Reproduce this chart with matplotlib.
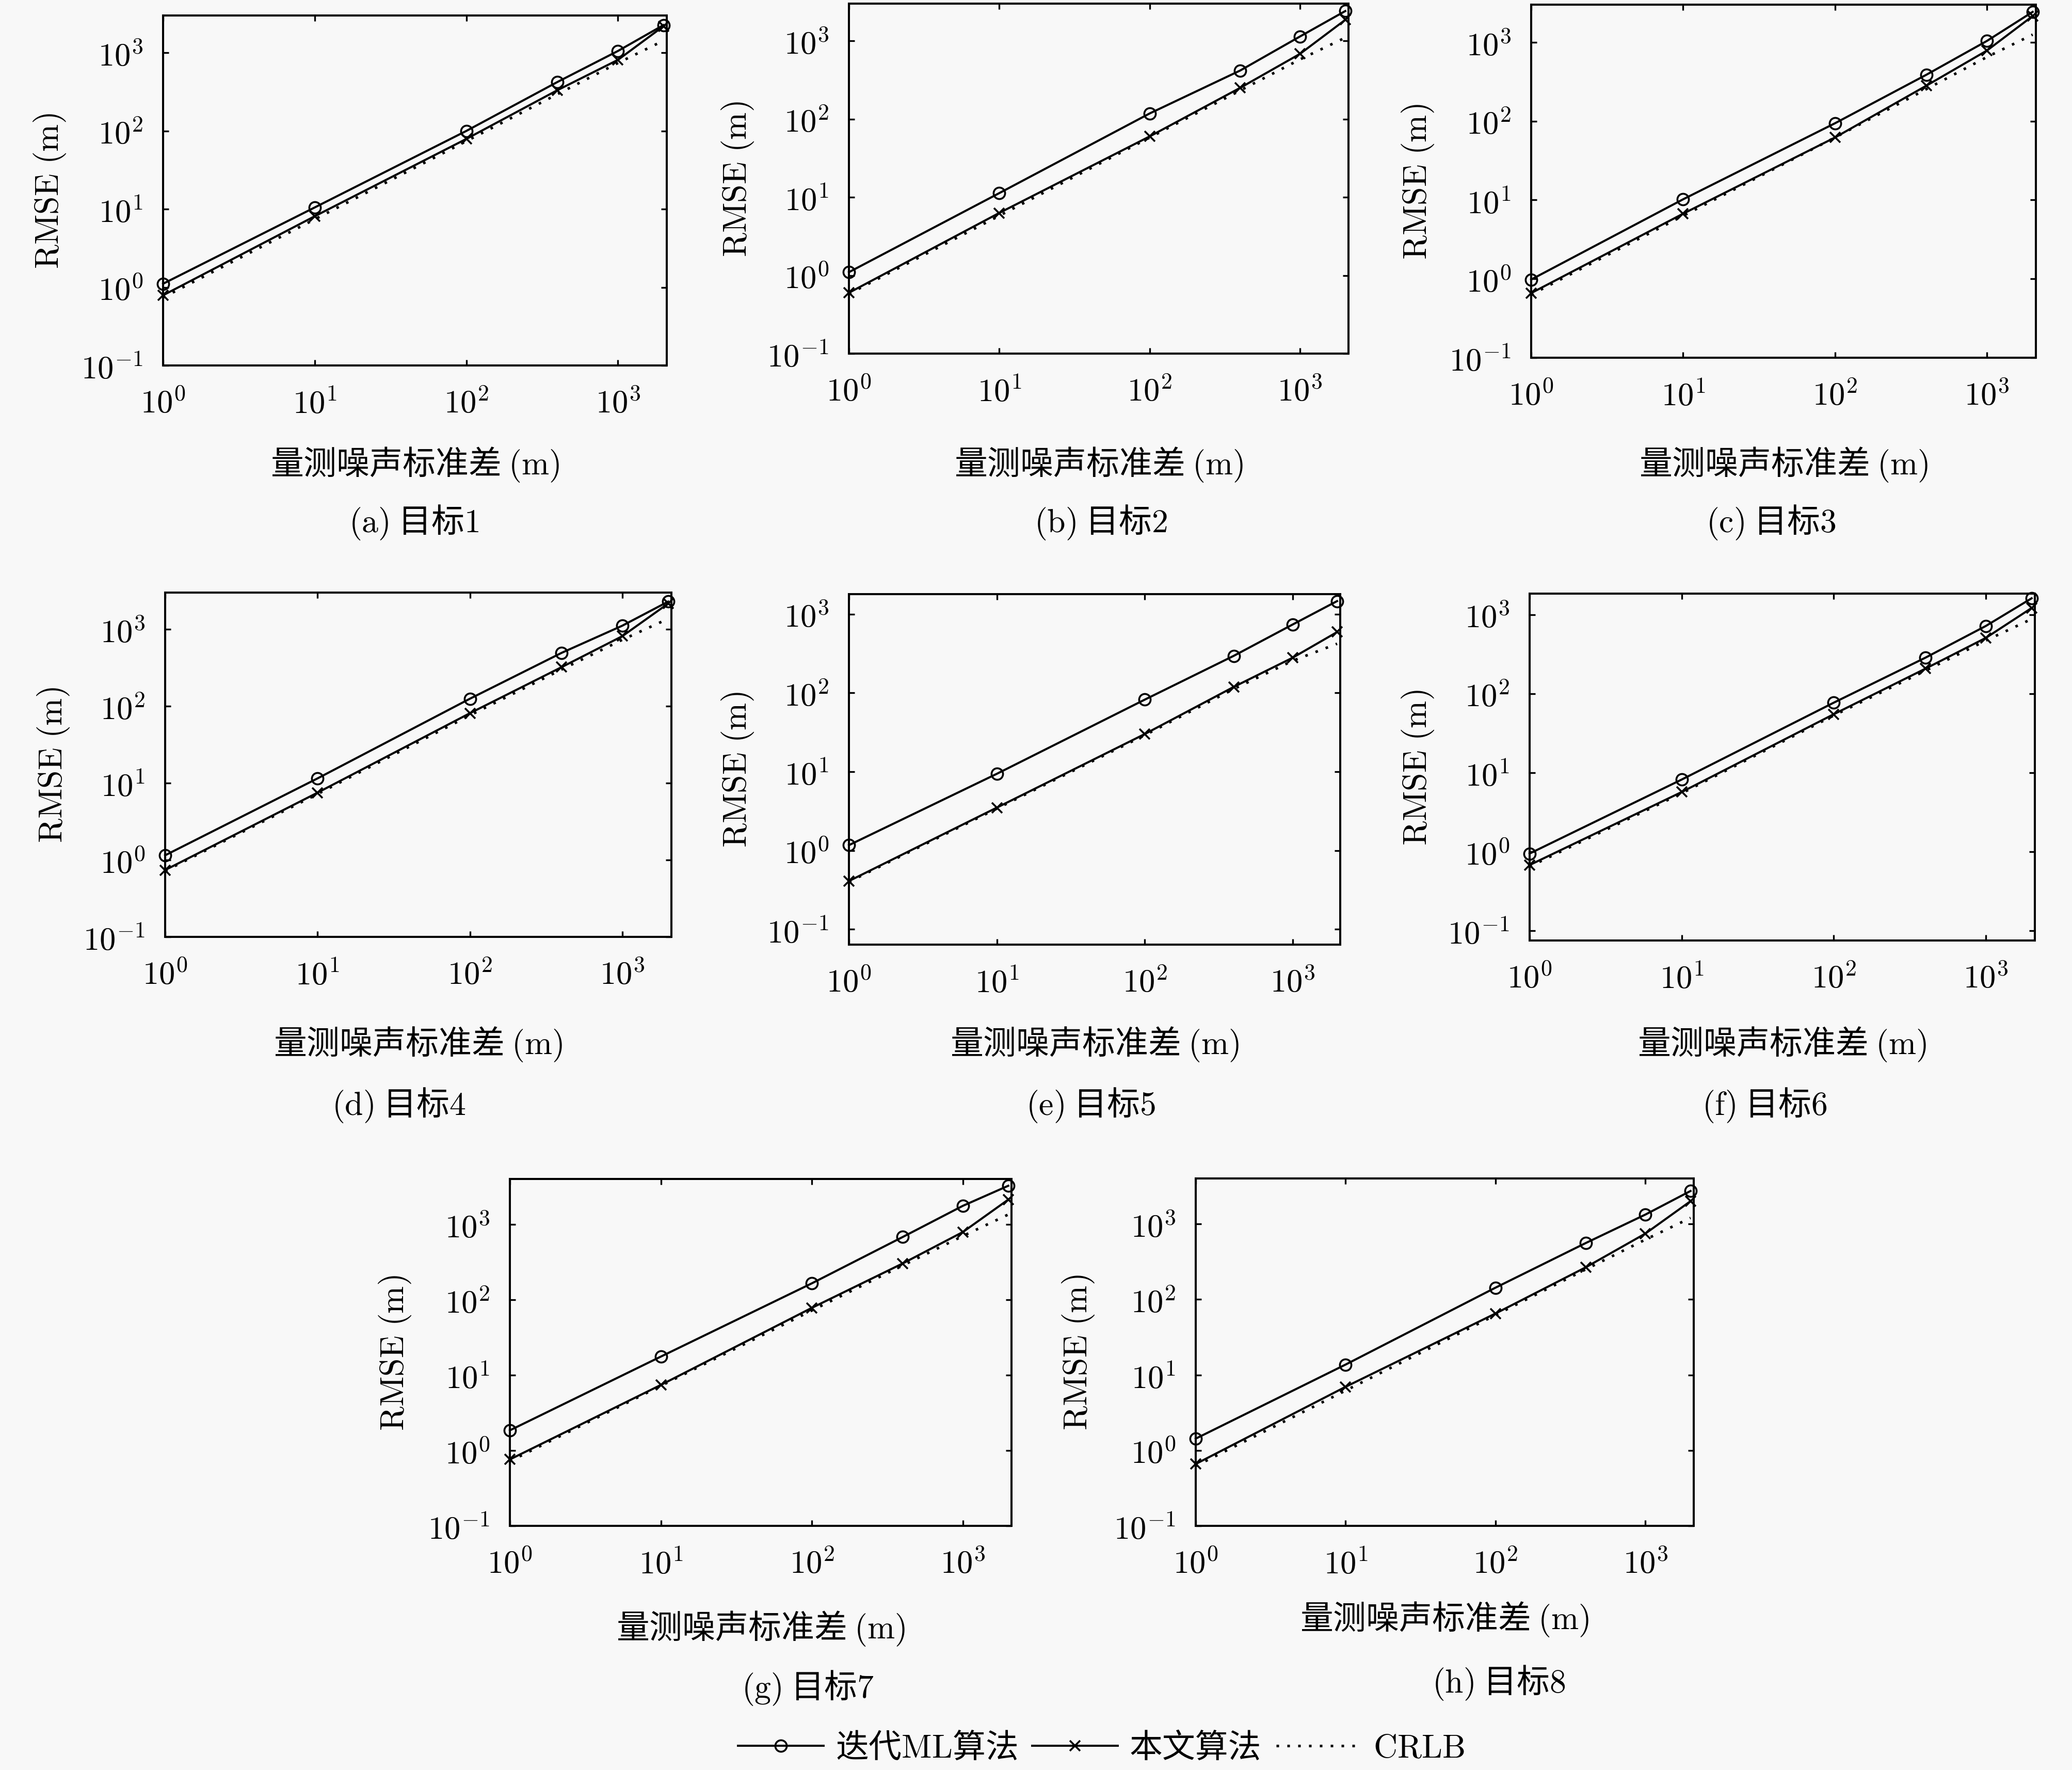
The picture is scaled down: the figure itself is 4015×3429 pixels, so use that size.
import numpy as np
import matplotlib
matplotlib.use('Agg')
import matplotlib.pyplot as plt
from matplotlib.ticker import FixedLocator, FuncFormatter, NullLocator

plt.rcParams['font.family'] = ['Noto Sans CJK SC', 'DejaVu Sans']
plt.rcParams['mathtext.fontset'] = 'cm'

# ---------------- data ----------------
sigma = [1, 10, 100, 400, 1000, 2000]

ml_a = [1.11, 10.5, 100, 424, 1054, 2264]
pr_a = [0.79, 8.1, 79, 333, 811, 2190]
cr_a = [0.74, 7.4, 74, 296, 740, 1430]

ml_b = [1.1, 11.3, 118, 418, 1140, 2410]
pr_b = [0.60, 6.3, 60, 251, 683, 1860]
cr_b = [0.58, 5.8, 58, 232, 580, 1100]

ml_c = [0.98, 10.2, 94, 388, 1040, 2430]
pr_c = [0.66, 6.7, 62, 282, 785, 2150]
cr_c = [0.63, 6.3, 62, 255, 650, 1250]

ml_d = [1.15, 11.5, 125, 494, 1113, 2290]
pr_d = [0.74, 7.5, 81, 322, 813, 2160]
cr_d = [0.72, 7.2, 76, 300, 730, 1370]

ml_e = [1.17, 9.4, 82, 295, 736, 1460]
pr_e = [0.41, 3.5, 30, 119, 279, 591]
cr_e = [0.40, 3.4, 29, 112, 255, 420]

ml_f = [0.95, 8.2, 77, 285, 719, 1610]
pr_f = [0.68, 5.7, 55, 207, 508, 1213]
cr_f = [0.65, 5.5, 53, 195, 470, 880]

ml_g = [1.85, 17.6, 165, 680, 1760, 3250]
pr_g = [0.76, 7.4, 78, 303, 790, 2130]
cr_g = [0.72, 7.2, 72, 285, 700, 1350]

ml_h = [1.43, 13.7, 143, 558, 1330, 2730]
pr_h = [0.66, 6.95, 65, 266, 745, 2000]
cr_h = [0.62, 6.2, 62, 250, 620, 1200]

panel_letters = ['a', 'b', 'c', 'd', 'e', 'f', 'g', 'h']
target_numbers = ['1', '2', '3', '4', '5', '6', '7', '8']
y_bottom = [0.1, 0.1, 0.1, 0.1, 0.064, 0.0755, 0.1, 0.1]
y_top = [3000, 3000, 3000, 3000, 1790, 1845, 4000, 4000]
y_ticks = [0.1, 1, 10, 100, 1000]
x_ticks = [1, 10, 100, 1000]
x_max = 2100

xlabel_text = '量测噪声标准差 (m)'
ylabel_text = 'RMSE (m)'
legend_labels = ['迭代ML算法', '本文算法', 'CRLB']

series = [
    (ml_a, pr_a, cr_a), (ml_b, pr_b, cr_b), (ml_c, pr_c, cr_c),
    (ml_d, pr_d, cr_d), (ml_e, pr_e, cr_e), (ml_f, pr_f, cr_f),
    (ml_g, pr_g, cr_g), (ml_h, pr_h, cr_h),
]

# ---------------- layout (pixels) ----------------
W, H = 4016, 3430
axes_px = [(316, 31, 1292, 709), (1645, 8, 2613, 686), (2967, 10, 3945, 694),
           (320, 1149, 1301, 1816), (1645, 1152, 2597, 1831), (2964, 1151, 3943, 1823),
           (988, 2285, 1960, 2957), (2317, 2284, 3282, 2957)]
ylabel_x = [97, 1430, 2748, 103, 1430, 2748, 766, 2090]
xlabel_y = [900, 900, 900, 2023, 2023, 2023, 3155, 3137]
caption_xy = [(802, 1012), (2133, 1012), (3432, 1012),
              (773, 2141), (2113, 2141), (3419, 2141),
              (1565, 3270), (2904, 3260)]

FS = 46
TFS = 45
bg = '#f8f8f8'


def mt(s):
    # render latin parts in Computer Modern, keep CJK as text
    out = ''
    buf = ''
    for ch in s:
        if ord(ch) < 128:
            buf += ch
        else:
            if buf:
                out += buf if buf.strip() == '' else (
                    (' ' if buf.startswith(' ') else '') + r'$\mathrm{' + buf.strip().replace(' ', r'\ ') + '}$' + (' ' if buf.endswith(' ') else ''))
                buf = ''
            out += ch
    if buf:
        out += (' ' if buf.startswith(' ') else '') + r'$\mathrm{' + buf.strip().replace(' ', r'\ ') + '}$'
    return out


fig = plt.figure(figsize=(W / 100, H / 100), dpi=100, facecolor=bg)

dec_fmt = FuncFormatter(lambda v, p: r'$10^{%d}$' % int(round(np.log10(v))))

handles = None
for i, (ml, pr, cr) in enumerate(series):
    l, t, r, b = axes_px[i]
    ax = fig.add_axes([l / W, 1 - b / H, (r - l) / W, (b - t) / H], facecolor=bg)
    h1, = ax.plot(sigma, ml, color='black', lw=2.9, marker='o', ms=16, mfc='none', mew=2.6, clip_on=False, zorder=3)
    h2, = ax.plot(sigma, pr, color='black', lw=2.9, marker='x', ms=14, mew=2.6, clip_on=False, zorder=3)
    h3, = ax.plot(sigma, cr, color='black', lw=3.6, linestyle=(0, (1, 3.2)), zorder=2)
    if handles is None:
        handles = [h1, h2, h3]
    ax.set_xscale('log')
    ax.set_yscale('log')
    ax.set_xlim(1, x_max)
    ax.set_ylim(y_bottom[i], y_top[i])
    ax.xaxis.set_major_locator(FixedLocator(x_ticks))
    ax.yaxis.set_major_locator(FixedLocator(y_ticks))
    ax.xaxis.set_minor_locator(NullLocator())
    ax.yaxis.set_minor_locator(NullLocator())
    ax.xaxis.set_major_formatter(dec_fmt)
    ax.yaxis.set_major_formatter(dec_fmt)
    ax.tick_params(axis='both', which='major', direction='in', length=8, width=2.4,
                   top=True, right=True, labelsize=TFS)
    ax.tick_params(axis='x', pad=30)
    ax.tick_params(axis='y', pad=28)
    for s in ax.spines.values():
        s.set_linewidth(2.9)
    cx = (l + r) / 2
    cy = (t + b) / 2
    fig.text(ylabel_x[i] / W, 1 - cy / H, mt(ylabel_text), rotation=90,
             ha='center', va='center', fontsize=FS)
    fig.text(cx / W, 1 - xlabel_y[i] / H, mt(xlabel_text), ha='center', va='center', fontsize=FS)
    cap = '(' + panel_letters[i] + ') 目标' + target_numbers[i]
    fig.text(caption_xy[i][0] / W, 1 - caption_xy[i][1] / H, mt(cap),
             ha='center', va='center', fontsize=FS)

fig.legend(handles, [mt(s) for s in legend_labels], loc='center',
           bbox_to_anchor=(2134 / W, 1 - 3387 / H), ncol=3, frameon=False,
           fontsize=FS, handlelength=2.6, handletextpad=0.35, columnspacing=0.45,
           borderpad=0.1)

fig.savefig('out.png', dpi=100, facecolor=bg)
